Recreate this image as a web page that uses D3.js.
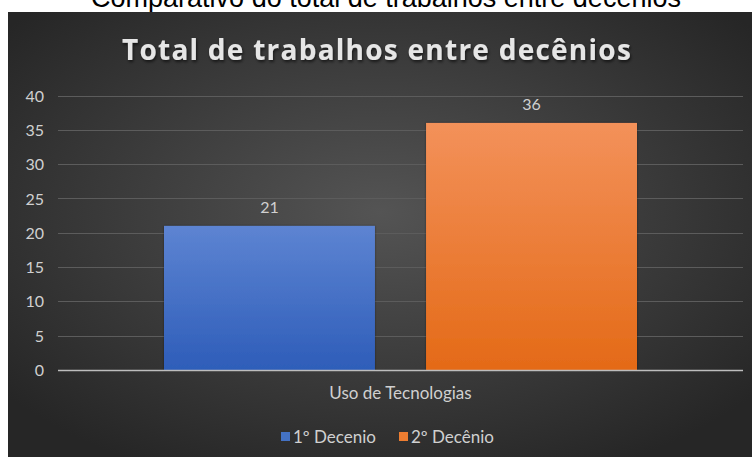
<!DOCTYPE html>
<html>
<head>
<meta charset="utf-8">
<script src="https://cdn.jsdelivr.net/npm/d3@7"></script>
<style>
  html, body { margin: 0; padding: 0; background: #ffffff; }
  svg { display: block; }
</style>
</head>
<body>
<svg id="chart" width="753" height="457"></svg>
<script>
// Data
const categories = ["Uso de Tecnologias"];
const seriesNames = ["1º Decenio", "2º Decênio"];
const seriesValues = [21, 36];
const seriesColors = ["#4472c4", "#ed7d31"];
const yTicks = [0, 5, 10, 15, 20, 25, 30, 35, 40];
const pageTitle = "Comparativo do total de trabalhos entre decênios";
const chartTitle = "Total de trabalhos entre decênios";

const W = 753, H = 457;
const svg = d3.select("#chart");
const defs = svg.append("defs");

// Panel background: dark radial gradient
const bg = defs.append("radialGradient").attr("id", "bgGrad")
  .attr("cx", "50%").attr("cy", "45%").attr("r", "65%");
bg.append("stop").attr("offset", "0%").attr("stop-color", "#545454");
bg.append("stop").attr("offset", "100%").attr("stop-color", "#262626");

const barGrads = [
  ["#5d84d2", "#2e5db9"],
  ["#f3915a", "#e46a17"]
];
barGrads.forEach((c, i) => {
  const g = defs.append("linearGradient").attr("id", "barGrad" + i)
    .attr("x1", 0).attr("y1", 0).attr("x2", 0).attr("y2", 1);
  g.append("stop").attr("offset", "0%").attr("stop-color", c[0]);
  g.append("stop").attr("offset", "100%").attr("stop-color", c[1]);
});

const shadow = defs.append("filter").attr("id", "titleShadow")
  .attr("x", "-5%").attr("y", "-20%").attr("width", "110%").attr("height", "150%");
shadow.append("feDropShadow").attr("dx", 1).attr("dy", 2).attr("stdDeviation", 1.5)
  .attr("flood-color", "#000").attr("flood-opacity", 0.6);

const barShadow = defs.append("filter").attr("id", "barShadow")
  .attr("x", "-5%").attr("y", "-5%").attr("width", "110%").attr("height", "110%");
barShadow.append("feDropShadow").attr("dx", 0).attr("dy", 0).attr("stdDeviation", 1.2)
  .attr("flood-color", "#000").attr("flood-opacity", 0.45);

// Heading above the panel (runs off the top of the page)
svg.append("text")
  .attr("x", 386).attr("y", 7)
  .attr("text-anchor", "middle")
  .attr("font-family", "Liberation Sans, Arial, sans-serif")
  .attr("font-size", 27)
  .attr("fill", "#000")
  .text(pageTitle);

// Panel
const panel = { x: 8, y: 12, w: 744, h: 445 };
svg.append("rect")
  .attr("x", panel.x).attr("y", panel.y)
  .attr("width", panel.w).attr("height", panel.h)
  .attr("fill", "url(#bgGrad)");

// Chart title
const title = svg.append("text")
  .attr("x", 377).attr("y", 60)
  .attr("text-anchor", "middle")
  .attr("font-family", "Open Sans, sans-serif")
  .attr("font-weight", "bold")
  .attr("font-size", 28)
  .attr("fill", "#e6e6e6")
  .attr("filter", "url(#titleShadow)")
  .text(chartTitle);
{
  const target = 510;
  const len = title.node().getComputedTextLength();
  const n = chartTitle.length;
  title.attr("letter-spacing", ((target - len) / n).toFixed(2));
}

// Scales
const plot = { left: 58, right: 743, top: 95.5, bottom: 370 };
const y = d3.scaleLinear().domain([0, 40]).range([plot.bottom, plot.top]);
const x0 = d3.scaleBand().domain(categories).range([plot.left, plot.right]).paddingInner(0).paddingOuter(0);
const x1 = d3.scaleBand().domain(seriesNames).range([106, x0.bandwidth() - 106]).paddingInner(0.195);

const labelFont = "Lato, sans-serif";
const labelColor = "#d0d0d0";

// Gridlines
svg.append("g")
  .selectAll("line")
  .data(yTicks.filter(d => d > 0))
  .join("line")
  .attr("x1", plot.left).attr("x2", plot.right)
  .attr("y1", d => Math.round(y(d)) + 0.5).attr("y2", d => Math.round(y(d)) + 0.5)
  .attr("stroke", "#5c5c5c").attr("stroke-width", 1.2);

// Y axis labels
const yAxis = d3.axisLeft(y).tickValues(yTicks).tickSize(0).tickPadding(0);
const gy = svg.append("g").attr("transform", `translate(44,0)`).call(yAxis);
gy.select(".domain").remove();
gy.selectAll("text")
  .attr("font-family", labelFont)
  .attr("font-size", 16)
  .attr("fill", labelColor)
  .attr("dy", "0.35em");

// Bars
const groups = svg.append("g")
  .selectAll("g")
  .data(categories)
  .join("g")
  .attr("transform", d => `translate(${x0(d)},0)`);

groups.selectAll("rect")
  .data(() => seriesNames.map((s, i) => ({ s, v: seriesValues[i], i })))
  .join("rect")
  .attr("x", d => x1(d.s))
  .attr("y", d => y(d.v))
  .attr("width", x1.bandwidth())
  .attr("height", d => y(0) - y(d.v))
  .attr("fill", d => `url(#barGrad${d.i})`)
  .attr("filter", "url(#barShadow)");

// Value labels
groups.selectAll("text.val")
  .data(() => seriesNames.map((s, i) => ({ s, v: seriesValues[i] })))
  .join("text")
  .attr("class", "val")
  .attr("x", d => x1(d.s) + x1.bandwidth() / 2)
  .attr("y", d => y(d.v) - 13)
  .attr("text-anchor", "middle")
  .attr("font-family", labelFont)
  .attr("font-size", 16)
  .attr("fill", labelColor)
  .text(d => d.v);

// Category axis line
svg.append("line")
  .attr("x1", plot.left).attr("x2", plot.right)
  .attr("y1", plot.bottom + 0.5).attr("y2", plot.bottom + 0.5)
  .attr("stroke", "#bdbdbd").attr("stroke-width", 1.5);

// Category labels
const xAxis = d3.axisBottom(x0).tickSize(0).tickPadding(0);
const gx = svg.append("g").attr("transform", `translate(0,${plot.bottom})`).call(xAxis);
gx.select(".domain").remove();
gx.selectAll("text")
  .attr("font-family", labelFont)
  .attr("font-size", 17)
  .attr("fill", labelColor)
  .attr("dy", 0)
  .attr("y", 29);

// Legend
const legendX = [281, 399];
const legend = svg.append("g")
  .selectAll("g")
  .data(seriesNames)
  .join("g")
  .attr("transform", (d, i) => `translate(${legendX[i]},437)`);
legend.append("rect")
  .attr("x", 0).attr("y", -5).attr("width", 9).attr("height", 9)
  .attr("fill", (d, i) => seriesColors[i]);
legend.append("text")
  .attr("x", 12).attr("y", 0)
  .attr("dy", "0.35em")
  .attr("font-family", labelFont)
  .attr("font-size", 17)
  .attr("fill", labelColor)
  .text(d => d);
</script>
</body>
</html>
